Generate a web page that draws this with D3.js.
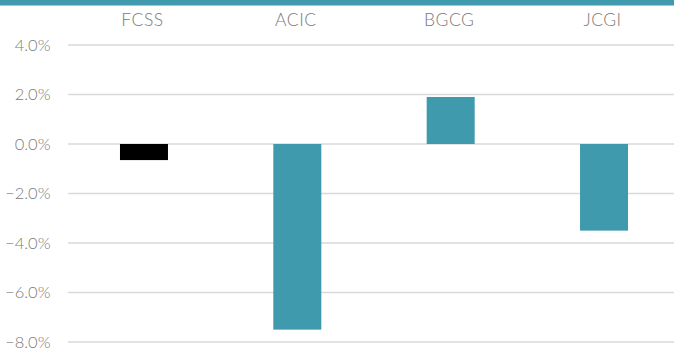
<!DOCTYPE html>
<html><head><meta charset="utf-8">
<script src="https://cdn.jsdelivr.net/npm/d3@7"></script>
<style>html,body{margin:0;padding:0;background:#fff;}svg{display:block;}</style>
</head><body>
<svg id="c" width="674" height="350"></svg>
<script>
const categories = ["FCSS", "ACIC", "BGCG", "JCGI"];
const values = [-0.65, -7.5, 1.9, -3.5];
const colors = ["#000000", "#3f9aae", "#3f9aae", "#3f9aae"];
const yTicks = [4, 2, 0, -2, -4, -6, -8];

const svg = d3.select("#c");
const W = 674, H = 350;
svg.append("rect").attr("x",0).attr("y",0).attr("width",W).attr("height",5.5).attr("fill","#3f9aae");

const y = d3.scaleLinear().domain([-8, 4]).range([342, 45]);
const x = d3.scaleBand().domain(categories).range([67.3, 680.7]).paddingInner(0.687).paddingOuter(0.3435);

const font = "Lato, 'Open Sans', sans-serif";
// gridlines
svg.append("g").selectAll("line").data(yTicks).join("line")
  .attr("x1", 68).attr("x2", W)
  .attr("y1", d => y(d)).attr("y2", d => y(d))
  .attr("stroke", "#d9d9d9").attr("stroke-width", 1.5);

svg.append("g").selectAll("text").data(yTicks).join("text")
  .attr("x", 50.5).attr("y", d => y(d)).attr("dy", "0.34em")
  .attr("text-anchor", "end")
  .attr("font-family", font).attr("font-weight", 300).attr("font-size", 16.5)
  .attr("fill", "#7a7a7a")
  .text(d => d3.format(".1f")(d) + "%");

svg.append("g").selectAll("rect").data(values).join("rect")
  .attr("x", (d,i) => x(categories[i]))
  .attr("width", x.bandwidth())
  .attr("y", d => y(Math.max(0, d)))
  .attr("height", d => Math.abs(y(d) - y(0)))
  .attr("fill", (d,i) => colors[i]);

svg.append("g").selectAll("text").data(categories).join("text")
  .attr("x", d => x(d) + x.bandwidth()/2 - 1.5).attr("y", 19.5).attr("dy", "0.36em")
  .attr("text-anchor", "middle")
  .attr("font-family", font).attr("font-weight", 300).attr("font-size", 17.5)
  .attr("letter-spacing", 0.5)
  .attr("fill", "#7a7a7a")
  .text(d => d);
</script>
</body></html>
